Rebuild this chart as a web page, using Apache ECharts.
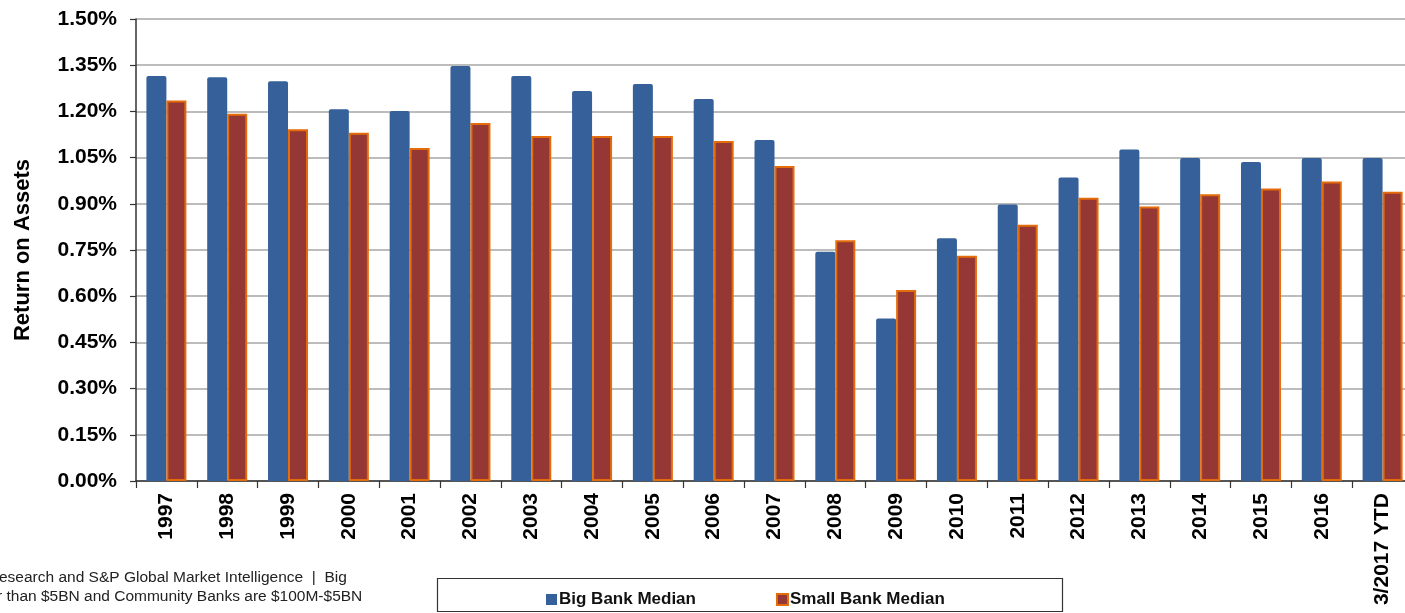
<!DOCTYPE html>
<html>
<head>
<meta charset="utf-8">
<script src="https://cdn.jsdelivr.net/npm/echarts@6/dist/echarts.min.js"></script>
<style>
  html, body { margin: 0; padding: 0; background: #fff; }
  #chart { width: 1405px; height: 613px; }
</style>
</head>
<body>
<div id="chart"></div>
<script>
// Return on assets, median by bank size group (%)
const categories = ['1997', '1998', '1999', '2000', '2001', '2002', '2003', '2004', '2005', '2006',
  '2007', '2008', '2009', '2010', '2011', '2012', '2013', '2014', '2015', '2016', '3/2017 YTD'];
const bigBankMedian = [1.315, 1.311, 1.298, 1.207, 1.201, 1.347, 1.315, 1.266, 1.289, 1.240,
  1.107, 0.744, 0.528, 0.788, 0.898, 0.985, 1.076, 1.049, 1.036, 1.049, 1.049];
const smallBankMedian = [1.235, 1.192, 1.142, 1.131, 1.081, 1.162, 1.120, 1.120, 1.120, 1.104,
  1.023, 0.782, 0.620, 0.731, 0.832, 0.920, 0.891, 0.931, 0.950, 0.972, 0.939];
const yTicks = { min: 0, max: 1.5, interval: 0.15 };
const footnoteLines = [
  'esearch and S&P Global Market Intelligence  |  Big',
  'r than $5BN and Community Banks are $100M-$5BN'
];

const FONT = '"Liberation Sans", Arial, Helvetica, sans-serif';
const chart = echarts.init(document.getElementById('chart'), null, { renderer: 'canvas' });

chart.setOption({
  animation: false,
  backgroundColor: '#ffffff',
  grid: {
    left: 136, top: 19, width: 1277, height: 462,
    containLabel: false,
    outerBoundsMode: 'none'
  },
  xAxis: {
    type: 'category',
    data: categories,
    boundaryGap: true,
    axisLine: { show: true, lineStyle: { color: '#333333', width: 1.5 } },
    axisTick: { show: true, alignWithLabel: false, length: 7, lineStyle: { color: '#333333', width: 1.2 } },
    axisLabel: {
      interval: 0,
      rotate: 90,
      margin: 12,
      color: '#000000',
      fontFamily: FONT,
      fontWeight: 'bold',
      fontSize: 21
    },
    splitLine: { show: false }
  },
  yAxis: {
    type: 'value',
    min: yTicks.min,
    max: yTicks.max,
    interval: yTicks.interval,
    name: 'Return on Assets',
    nameLocation: 'middle',
    nameGap: 102,
    nameRotate: 90,
    nameTextStyle: { color: '#000000', fontFamily: FONT, fontWeight: 'bold', fontSize: 22 },
    axisLine: { show: true, lineStyle: { color: '#333333', width: 1.5 } },
    axisTick: { show: true, inside: false, length: 6, lineStyle: { color: '#333333', width: 1.2 } },
    axisLabel: {
      margin: 19,
      color: '#000000',
      fontFamily: FONT,
      fontWeight: 'bold',
      fontSize: 21,
      formatter: v => v.toFixed(2) + '%'
    },
    splitLine: { show: true, lineStyle: { color: '#a6a6a6', width: 1.5 } }
  },
  legend: {
    left: 541,
    top: 586,
    itemWidth: 11,
    itemHeight: 11,
    itemGap: 80,
    icon: 'rect',
    textStyle: { color: '#111111', fontFamily: FONT, fontWeight: 'bold', fontSize: 17, padding: [0, 0, 0, -3] },
    data: ['Big Bank Median', 'Small Bank Median']
  },
  graphic: [
    {
      type: 'rect',
      shape: { x: 437.5, y: 578.5, width: 625, height: 33 },
      style: { fill: 'none', stroke: '#333333', lineWidth: 1.2 },
      z: 0
    },
    {
      type: 'text',
      x: -1,
      y: 570,
      style: { text: footnoteLines[0], fill: '#222222', font: '15.5px ' + FONT }
    },
    {
      type: 'text',
      x: -3,
      y: 589,
      style: { text: footnoteLines[1], fill: '#222222', font: '15.5px ' + FONT }
    }
  ],
  series: [
    {
      name: 'Big Bank Median',
      type: 'bar',
      data: bigBankMedian,
      barWidth: 20,
      barGap: '0%',
      itemStyle: { color: '#36609a', borderRadius: [2, 2, 0, 0] }
    },
    {
      name: 'Small Bank Median',
      type: 'bar',
      data: smallBankMedian,
      barWidth: 20,
      barGap: '0%',
      itemStyle: { color: '#953735', borderColor: '#e46c0a', borderWidth: 2 }
    }
  ]
});
</script>
</body>
</html>
